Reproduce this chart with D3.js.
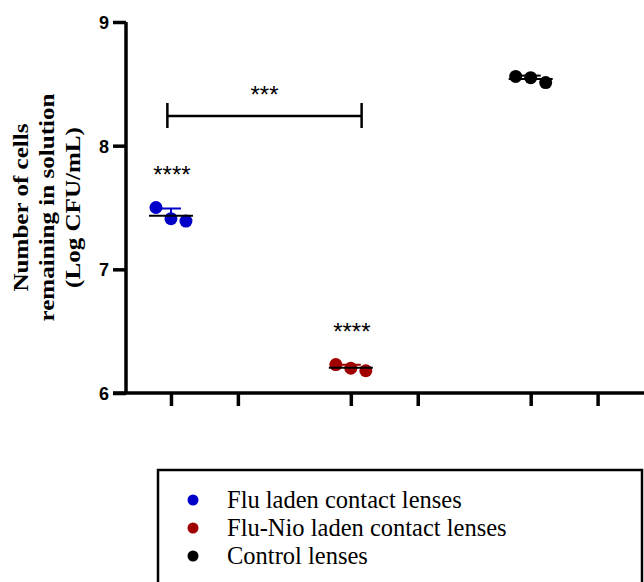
<!DOCTYPE html>
<html>
<head>
<meta charset="utf-8">
<script src="https://cdn.jsdelivr.net/npm/d3@7"></script>
<style>
  body { margin: 0; background: #fff; }
  svg { display: block; }
</style>
</head>
<body>
<div id="container"></div>
<script>
// groups and replicate values (Log CFU/mL)
let groups = ["Flu laden contact lenses", "Flu-Nio laden contact lenses", "Control lenses"]
let groupColors = ["#0000c8", "#a00000", "#000000"]
let fluValues = [7.50, 7.41, 7.39]
let fluNioValues = [6.23, 6.20, 6.18]
let controlValues = [8.56, 8.55, 8.51]
let yTicks = [6, 7, 8, 9]
let xTickPositions = [0, 0.372, 1, 1.372, 2, 2.372]
let groupStars = ["****", "****", ""]

let allValues = [fluValues, fluNioValues, controlValues]

let w = 644;
let h = 582;
let sans = "'Liberation Sans', Arial, sans-serif"
let serif = "'Liberation Serif', 'Times New Roman', serif"

let svg = d3.select("#container")
  .append("svg")
  .attr("width", w)
  .attr("height", h)

let x = d3.scaleLinear()
  .domain([-0.25, 2.63])
  .range([126, 644])

let y = d3.scaleLinear()
  .domain([6, 9])
  .range([393, 22])

// axes
let yAxis = svg.append("g")
  .attr("transform", "translate(126,0)")
  .call(d3.axisLeft(y).tickValues(yTicks).tickSize(13).tickPadding(4).tickFormat(d3.format("d")))
  .attr("font-family", sans)
  .attr("font-weight", "bold")
  .attr("font-size", 18)
yAxis.select(".domain").attr("d", "M0," + y(9) + "V" + y(6))
yAxis.selectAll("path, line").attr("stroke", "#000").attr("stroke-width", 3.5)
yAxis.selectAll("text")
  .attr("fill", "#000")
  .attr("dy", "0.36em")
  .style("font-family", sans)
  .style("font-weight", "700")
  .style("font-size", "18px")

let xAxis = svg.append("g")
  .attr("transform", "translate(0,393)")
  .call(d3.axisBottom(x).tickValues(xTickPositions).tickSize(13).tickFormat(""))
xAxis.select(".domain").attr("d", "M113,0H644")
xAxis.selectAll("path, line").attr("stroke", "#000").attr("stroke-width", 3.5)

// y axis title (glyphs slightly stretched along the text, as in the original)
let titleLines = ["Number of cells", "remaining in solution", "(Log CFU/mL)"]
let yTitle = svg.append("text")
  .attr("transform", "translate(21," + y(7.5) + ") rotate(-90) scale(1.14,1)")
  .attr("text-anchor", "middle")
  .style("font-family", serif)
  .style("font-weight", "bold")
  .style("font-size", "22px")
yTitle.selectAll("tspan")
  .data(titleLines)
  .enter()
  .append("tspan")
  .attr("x", 0)
  .attr("dy", function(d, i){ return i == 0 ? "0.33em" : 26 })
  .text(function(d){ return d })

// points, mean and sd (upper bar only)
let jitter = [-15, 0, 15]
allValues.forEach(function(vals, gi){
  let m = d3.mean(vals)
  let sd = d3.deviation(vals)
  let cx = x(gi)
  let g = svg.append("g")

  g.append("line")
    .attr("x1", cx).attr("x2", cx)
    .attr("y1", y(m + sd)).attr("y2", y(m))
    .attr("stroke", groupColors[gi]).attr("stroke-width", 2)
  g.append("line")
    .attr("x1", cx - 10).attr("x2", cx + 10)
    .attr("y1", y(m + sd)).attr("y2", y(m + sd))
    .attr("stroke", groupColors[gi]).attr("stroke-width", 2)

  g.selectAll("circle")
    .data(vals)
    .enter()
    .append("circle")
    .attr("cx", function(d, i){ return cx + jitter[i] })
    .attr("cy", function(d){ return y(d) })
    .attr("r", 6.5)
    .attr("fill", groupColors[gi])

  g.append("line")
    .attr("x1", cx - 22).attr("x2", cx + 22)
    .attr("y1", y(m)).attr("y2", y(m))
    .attr("stroke", "#000").attr("stroke-width", 2)

  if (groupStars[gi]) {
    g.append("text")
      .attr("x", cx + 1)
      .attr("y", y(d3.max(vals)) - 25)
      .attr("text-anchor", "middle")
      .style("font-family", sans)
      .style("font-size", "24px")
      .text(groupStars[gi])
  }
})

// comparison bracket
let bx1 = x(-0.02), bx2 = x(1.06), by = y(8.24)
svg.append("path")
  .attr("d", "M" + bx1 + "," + (by - 13) + "V" + (by + 12) + "M" + bx1 + "," + by + "H" + bx2 + "M" + bx2 + "," + (by - 13) + "V" + (by + 12))
  .attr("fill", "none")
  .attr("stroke", "#000")
  .attr("stroke-width", 2.5)
svg.append("text")
  .attr("x", (bx1 + bx2) / 2)
  .attr("y", by - 13)
  .attr("text-anchor", "middle")
  .style("font-family", sans)
  .style("font-size", "24px")
  .text("***")

// legend
svg.append("rect")
  .attr("x", 158).attr("y", 470)
  .attr("width", 484).attr("height", 130)
  .attr("fill", "none")
  .attr("stroke", "#000")
  .attr("stroke-width", 2.5)
let legend = svg.append("g")
legend.selectAll("circle")
  .data(groups)
  .enter()
  .append("circle")
  .attr("cx", 193)
  .attr("cy", function(d, i){ return 500 + i * 28 })
  .attr("r", 5.5)
  .attr("fill", function(d, i){ return groupColors[i] })
legend.selectAll("text")
  .data(groups)
  .enter()
  .append("text")
  .attr("x", 227)
  .attr("y", function(d, i){ return 500 + i * 28 })
  .attr("dy", "0.33em")
  .style("font-family", serif)
  .style("font-size", "24.5px")
  .text(function(d){ return d })
</script>
</body>
</html>
